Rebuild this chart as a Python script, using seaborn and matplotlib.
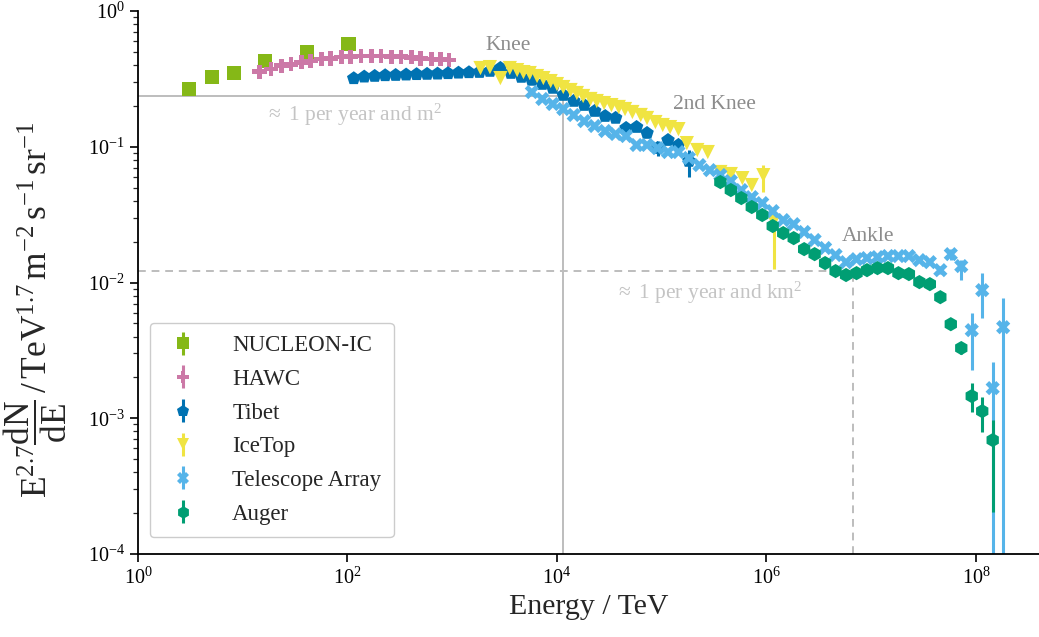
import numpy as np
import pandas as pd
import matplotlib
matplotlib.use("Agg")
import matplotlib.pyplot as plt
import seaborn as sns
from matplotlib.ticker import LogLocator, NullLocator, NullFormatter, FixedLocator

# Cosmic-ray all-particle spectrum, E^2.7 weighted.
# Energies are log10(E / TeV); fluxes are log10(E^2.7 dN/dE / TeV^1.7 m^-2 s^-1 sr^-1).
# Error bars are sparse: index -> (down, up) in decades.

nucleon_log_e = [0.49, 0.71, 0.92, 1.21, 1.61, 2.01]
nucleon_log_flux = [-0.575, -0.486, -0.457, -0.368, -0.302, -0.243]
nucleon_err = {5: (0.074, 0.051)}

hawc_log_e = [1.16, 1.27, 1.37, 1.46, 1.56, 1.65, 1.75, 1.84, 1.94, 2.03,
              2.13, 2.23, 2.32, 2.42, 2.51, 2.61, 2.70, 2.80, 2.89, 2.97]
hawc_log_flux = [-0.447, -0.427, -0.403, -0.393, -0.378, -0.368, -0.354, -0.349, -0.339, -0.337,
                 -0.332, -0.332, -0.332, -0.337, -0.337, -0.341, -0.349, -0.354, -0.356, -0.361]
hawc_err = {}

tibet_log_e = [2.06, 2.16, 2.26, 2.36, 2.46, 2.56, 2.66, 2.76, 2.86, 2.96,
               3.06, 3.16, 3.26, 3.36, 3.46, 3.56, 3.66, 3.76, 3.86, 3.96,
               4.06, 4.16, 4.26, 4.36, 4.46, 4.56, 4.66, 4.76, 4.86, 4.96,
               5.06, 5.16, 5.26]
tibet_log_flux = [-0.496, -0.484, -0.479, -0.474, -0.472, -0.469, -0.466, -0.464, -0.462, -0.459,
                  -0.455, -0.452, -0.450, -0.442, -0.420, -0.457, -0.486, -0.508, -0.538, -0.567,
                  -0.619, -0.663, -0.693, -0.737, -0.774, -0.788, -0.862, -0.855, -0.899, -1.010,
                  -0.951, -0.987, -1.105]
tibet_err = {26: (0.03, 0.03), 29: (0.06, 0.05), 30: (0.03, 0.03), 32: (0.118, 0.08)}

icetop_log_e = [3.27, 3.36, 3.46, 3.55, 3.62, 3.68, 3.74, 3.81, 3.87, 3.94,
                4.00, 4.06, 4.13, 4.19, 4.25, 4.32, 4.38, 4.45, 4.52, 4.59,
                4.65, 4.72, 4.80, 4.86, 4.94, 5.01, 5.08, 5.16, 5.24, 5.34,
                5.44, 5.56, 5.66, 5.77, 5.86, 5.97, 6.07]
icetop_log_flux = [-0.420, -0.413, -0.494, -0.420, -0.435, -0.450, -0.457, -0.479, -0.494, -0.516,
                   -0.538, -0.560, -0.582, -0.604, -0.626, -0.648, -0.663, -0.678, -0.693, -0.707,
                   -0.722, -0.744, -0.766, -0.788, -0.818, -0.840, -0.855, -0.870, -0.973, -1.024,
                   -1.039, -1.186, -1.201, -1.231, -1.282, -1.209, -1.547]
icetop_err = {35: (0.125, 0.074), 36: (0.35, 0.03)}

ta_log_e = [3.76, 3.86, 3.96, 4.06, 4.16, 4.26, 4.36, 4.46, 4.56, 4.66,
            4.76, 4.86, 4.96, 5.06, 5.16, 5.26, 5.36, 5.46, 5.56, 5.66,
            5.76, 5.86, 5.96, 6.06, 6.16, 6.26, 6.36, 6.46, 6.56, 6.66,
            6.76, 6.86, 6.96, 7.06, 7.16, 7.26, 7.36, 7.46, 7.56, 7.66,
            7.76, 7.86, 7.96, 8.06, 8.16, 8.26]
ta_log_flux = [-0.597, -0.648, -0.685, -0.722, -0.766, -0.811, -0.847, -0.884, -0.906, -0.921,
               -0.987, -0.987, -1.010, -1.039, -1.039, -1.083, -1.135, -1.172, -1.208, -1.253,
               -1.319, -1.371, -1.415, -1.474, -1.540, -1.570, -1.628, -1.687, -1.746, -1.798,
               -1.850, -1.828, -1.820, -1.813, -1.805, -1.805, -1.805, -1.835, -1.850, -1.909,
               -1.791, -1.879, -2.351, -2.056, -2.778, -2.329]
ta_err = {39: (0.03, 0.03), 40: (0.04, 0.04), 41: (0.103, 0.044), 42: (0.295, 0.126),
          43: (0.206, 0.125), 44: (3.0, 0.191), 45: (3.0, 0.214)}

auger_log_e = [5.56, 5.66, 5.76, 5.86, 5.96, 6.06, 6.16, 6.26, 6.36, 6.46,
               6.56, 6.66, 6.76, 6.86, 6.96, 7.06, 7.16, 7.26, 7.36, 7.46,
               7.56, 7.66, 7.76, 7.86, 7.96, 8.06, 8.16]
auger_log_flux = [-1.260, -1.319, -1.378, -1.444, -1.503, -1.584, -1.636, -1.673, -1.754, -1.791,
                  -1.857, -1.916, -1.945, -1.931, -1.909, -1.894, -1.894, -1.931, -1.938, -1.997,
                  -2.012, -2.108, -2.307, -2.483, -2.837, -2.948, -3.161]
auger_err = {23: (0.04, 0.02), 24: (0.118, 0.096), 25: (0.154, 0.103), 26: (0.531, 0.147)}

experiments = ["NUCLEON-IC", "HAWC", "Tibet", "IceTop", "Telescope Array", "Auger"]
colors = ["#85b817", "#cc79a7", "#0072b2", "#f0e442", "#56b4e9", "#009e73"]
markers = ["s", "P", "p", "v", "X", "h"]
datasets = [
    (nucleon_log_e, nucleon_log_flux, nucleon_err),
    (hawc_log_e, hawc_log_flux, hawc_err),
    (tibet_log_e, tibet_log_flux, tibet_err),
    (icetop_log_e, icetop_log_flux, icetop_err),
    (ta_log_e, ta_log_flux, ta_err),
    (auger_log_e, auger_log_flux, auger_err),
]

# reference exposure levels and spectral features
flux_per_m2_year = 10 ** -0.626
energy_per_m2_year = 10 ** 4.056
flux_per_km2_year = 10 ** -1.913
energy_per_km2_year = 10 ** 6.826

sns.set_theme(style="ticks")
plt.rcParams["font.family"] = ["Liberation Serif", "DejaVu Serif"]
plt.rcParams["mathtext.fontset"] = "custom"
plt.rcParams["mathtext.rm"] = "Liberation Serif"
plt.rcParams["mathtext.it"] = "Liberation Serif:italic"
plt.rcParams["mathtext.bf"] = "Liberation Serif:bold"

rows = []
for name, (le, lf, _) in zip(experiments, datasets):
    for e, f in zip(le, lf):
        rows.append({"experiment": name, "energy": 10 ** e, "flux": 10 ** f})
df = pd.DataFrame(rows)

fig = plt.figure(figsize=(10.39, 6.37), dpi=100)
ax = fig.add_axes([0.1328, 0.1303, 0.8672, 0.8524])

ax.set_xscale("log")
ax.set_yscale("log")
ax.set_xlim(1, 4.0e8)
ax.set_ylim(1e-4, 1)

# guide lines
ref_solid = "#bdbdbd"
ax.plot([1, energy_per_m2_year], [flux_per_m2_year, flux_per_m2_year], color=ref_solid, lw=1.4, zorder=1)
ax.plot([energy_per_m2_year, energy_per_m2_year], [1e-4, flux_per_m2_year], color=ref_solid, lw=1.4, zorder=1)
ax.plot([1, energy_per_km2_year], [flux_per_km2_year, flux_per_km2_year], color=ref_solid, lw=1.4,
        ls=(0, (4, 3)), zorder=1)
ax.plot([energy_per_km2_year, energy_per_km2_year], [1e-4, flux_per_km2_year], color=ref_solid, lw=1.4,
        ls=(0, (4, 3)), zorder=1)

# error bars
for name, color, (le, lf, err) in zip(experiments, colors, datasets):
    if not err:
        continue
    idx = sorted(err)
    e = np.array([10 ** le[i] for i in idx])
    f = np.array([10 ** lf[i] for i in idx])
    lo = np.array([f[k] - 10 ** (lf[i] - err[i][0]) for k, i in enumerate(idx)])
    hi = np.array([10 ** (lf[i] + err[i][1]) - f[k] for k, i in enumerate(idx)])
    ax.errorbar(e, f, yerr=[lo, hi], fmt="none", ecolor=color, elinewidth=2.2, capsize=0, zorder=2)

sns.scatterplot(data=df, x="energy", y="flux", hue="experiment", style="experiment",
                hue_order=experiments, style_order=experiments,
                palette=dict(zip(experiments, colors)), markers=dict(zip(experiments, markers)),
                s=105, linewidth=0, legend=False, ax=ax, zorder=3)

# annotations
ann_size = 15.5
ax.text(10 ** 3.534, 10 ** -0.251, "Knee", color="#8c8c8c", fontsize=ann_size, ha="center", va="center")
ax.text(10 ** 5.50, 10 ** -0.685, "2nd Knee", color="#8c8c8c", fontsize=ann_size, ha="center", va="center")
ax.text(10 ** 6.972, 10 ** -1.658, "Ankle", color="#8c8c8c", fontsize=ann_size, ha="center", va="center")
ax.text(10 ** 2.054, 10 ** -0.766, r"$\approx$ 1 per year and m$^2$", color="#c4c4c4", fontsize=ann_size,
        ha="center", va="center")
ax.text(10 ** 5.444, 10 ** -2.078, r"$\approx$ 1 per year and km$^2$", color="#c4c4c4", fontsize=ann_size,
        ha="center", va="center")

# axes styling
sns.despine(ax=ax)
for side in ["left", "bottom"]:
    ax.spines[side].set_linewidth(1.3)
    ax.spines[side].set_color("black")
ax.xaxis.set_major_locator(FixedLocator([1, 1e2, 1e4, 1e6, 1e8]))
ax.xaxis.set_minor_locator(NullLocator())
ax.yaxis.set_major_locator(LogLocator(base=10, numticks=10))
ax.yaxis.set_minor_locator(LogLocator(base=10, subs=np.arange(2, 10), numticks=20))
ax.yaxis.set_minor_formatter(NullFormatter())
ax.tick_params(axis="both", which="major", direction="out", length=6, width=1.2, labelsize=14.5, colors="black")
ax.tick_params(axis="y", which="minor", direction="out", length=3.5, width=0.9)

ax.set_xlabel("Energy / TeV", fontsize=21.5, labelpad=4)
ax.set_ylabel(r"$\mathrm{E}^{2.7}\dfrac{\mathrm{dN}}{\mathrm{dE}}\,/\,\mathrm{TeV}^{1.7}\,\mathrm{m}^{-2}\,\mathrm{s}^{-1}\,\mathrm{sr}^{-1}$",
              fontsize=25.5)
ax.yaxis.set_label_coords(-0.077, 0.449)

# legend with error-bar style handles
handles = []
for name, color, marker in zip(experiments, colors, markers):
    h = ax.errorbar([np.nan], [np.nan], yerr=[np.nan], fmt=marker, color=color, ms=9, mew=0,
                    elinewidth=2.2, capsize=0, label=name)
    handles.append(h)
leg = ax.legend(handles=handles, loc="lower left", bbox_to_anchor=(0.013, 0.031), borderaxespad=0,
                fontsize=16.5, frameon=True, fancybox=True, edgecolor="#cccccc", framealpha=1,
                handlelength=1.8, handletextpad=1.25, labelspacing=0.55, borderpad=0.55)
leg.get_frame().set_linewidth(1.0)

fig.savefig("out.png", dpi=100)
